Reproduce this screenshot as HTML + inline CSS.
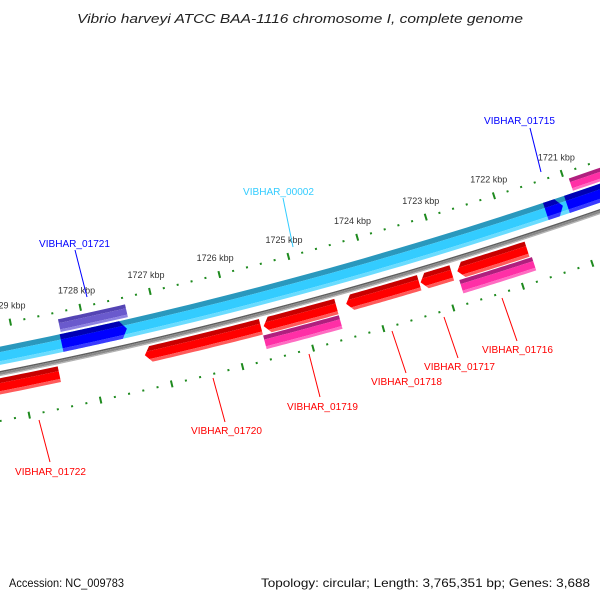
<!DOCTYPE html>
<html><head><meta charset="utf-8"><style>
html,body{margin:0;padding:0;background:#fff;}
svg{display:block;}
</style></head><body>
<svg id="map" xmlns="http://www.w3.org/2000/svg" width="600" height="600" viewBox="0 0 600 600" font-family="Liberation Sans, sans-serif">
<rect width="600" height="600" fill="#fff"/>
<text x="300" y="23" text-anchor="middle" font-style="italic" font-size="13" fill="#222" textLength="446" lengthAdjust="spacingAndGlyphs">Vibrio harveyi ATCC BAA-1116 chromosome I, complete genome</text>
<g id="tracks"></g>
<g id="rulers"></g>
<g id="callouts"></g>
<text x="9" y="587" font-size="12" fill="#111" textLength="115" lengthAdjust="spacingAndGlyphs">Accession: NC_009783</text>
<text x="590" y="587" text-anchor="end" font-size="12" fill="#111" textLength="329" lengthAdjust="spacingAndGlyphs">Topology: circular; Length: 3,765,351 bp; Genes: 3,688</text>
</svg>
<script>
// ---- data ----
const tickKbp = [1719,1720,1721,1722,1723,1724,1725,1726,1727,1728,1729,1730];
const tickLabels = ["1719 kbp","1720 kbp","1721 kbp","1722 kbp","1723 kbp","1724 kbp","1725 kbp","1726 kbp","1727 kbp","1728 kbp","1729 kbp","1730 kbp"];
const featNames  = ["VIBHAR_00002","VIBHAR_01721","VIBHAR_01721b","VIBHAR_01715","VIBHAR_01715b","VIBHAR_01715c","VIBHAR_01722","VIBHAR_01720","VIBHAR_01720b","VIBHAR_01718","VIBHAR_01718b","VIBHAR_01717","VIBHAR_01719","VIBHAR_01716"];
const featStart  = [1718.5,1727.43,1727.38,1721.13,1718.5,1718.5,1728.48,1725.62,1724.54,1723.35,1722.88,1721.79,1724.54,1721.76];
const featEnd    = [1730.5,1728.36,1728.34,1721.38,1721.07,1720.93,1730.5,1727.27,1725.58,1724.40,1723.33,1722.80,1725.62,1722.81];
const featRow    = ["cyan","cyan","top","cyan","cyan","top","r1","r1","r1","r1","r1","r1","r2","r2"];
const featStrand = [0,1,0,1,0,0,0,-1,-1,-1,-1,-1,0,0];
const featColor  = ["cyan","blue","purple","blue","blue","pink","red","red","red","red","red","red","pink","pink"];

// ---- geometry ----
const CX=-894, CY=-4130, R0=4543;
function ang(k){return (71.31+(k-1721)*0.901)*Math.PI/180;}
function pt(k,r){const a=ang(k);return [CX+(R0+r)*Math.cos(a), CY+(R0+r)*Math.sin(a)];}
const rows={top:[7,20],cyan:[22,40],r1:[53,69],r2:[70,84]};
const pal={
 red:["#c80000","#ff0000","#ff5a5a"],
 pink:["#b01f7e","#ff2fa6","#ff6cc2"],
 blue:["#0000b4","#0000ff","#3a3aff"],
 purple:["#5444b4","#6a5acd","#8d82e2"],
 cyan:["#2a98bd","#33ccff","#6adcff"],
 gray:["#5e5e5e","#8a8a8a","#b2b2b2"]
};
const NS="http://www.w3.org/2000/svg";
function arcPts(k1,k2,r,n){const a=[];for(let i=0;i<=n;i++){a.push(pt(k1+(k2-k1)*i/n,r));}return a;}
function fmt(ps){return ps.map(p=>p[0].toFixed(2)+","+p[1].toFixed(2)).join(" ");}
function shapePts(k1,k2,r1,r2,strand){
  const ah=0.085; let a=k1,b=k2; const pts=[];
  if(strand===1)a=Math.min(k2,k1+ah);
  if(strand===-1)b=Math.max(k1,k2-ah);
  const n=24;
  arcPts(a,b,r1,n).forEach(p=>pts.push(p));
  if(strand===-1)pts.push(pt(k2,(r1+r2)/2));
  arcPts(b,a,r2,n).forEach(p=>pts.push(p));
  if(strand===1)pts.push(pt(k1,(r1+r2)/2));
  return pts;
}
function bandPts(k1,k2,r1,r2){return arcPts(k1,k2,r1,24).concat(arcPts(k2,k1,r2,24));}

const tracks=document.getElementById('tracks');
// backbone
(function(){
  const c=pal.gray;
  [[46,47.5,c[0]],[47.5,49.8,c[1]],[49.8,51,c[2]]].forEach((s,i)=>{
    const p=document.createElementNS(NS,'polygon');
    p.setAttribute('points',fmt(bandPts(1718.5,1730.5,s[0],s[1])));
    p.setAttribute('fill',s[2]);
    
    
    tracks.appendChild(p);
  });
})();
featStart.forEach((ks,i)=>{
  const ke=featEnd[i]; const rr=rows[featRow[i]]; const c=pal[featColor[i]];
  const g=document.createElementNS(NS,'g');
  
  
  const cp=document.createElementNS(NS,'clipPath'); cp.setAttribute('id','cp'+i);
  const sp=document.createElementNS(NS,'polygon');
  sp.setAttribute('points',fmt(shapePts(ks,ke,rr[0],rr[1],featStrand[i])));
  cp.appendChild(sp); g.appendChild(cp);
  const h=rr[1]-rr[0];
  const bands=[[rr[0]-3,rr[0]+h*0.3,c[0]],[rr[0]+h*0.3,rr[1]-h*0.2,c[1]],[rr[1]-h*0.2,rr[1]+3,c[2]]];
  bands.forEach(b=>{
    const p=document.createElementNS(NS,'polygon');
    p.setAttribute('points',fmt(bandPts(ks-0.1,ke+0.1,b[0],b[1])));
    p.setAttribute('fill',b[2]);
    p.setAttribute('clip-path','url(#cp'+i+')');
    
    
    g.appendChild(p);
  });
  tracks.appendChild(g);
});

// rulers
const rulers=document.getElementById('rulers');
const green="#1e8a1e";
function tickLine(k,r,len,w,name){
  const a=pt(k,r-len/2), b=pt(k,r+len/2);
  const l=document.createElementNS(NS,'line');
  l.setAttribute('x1',a[0]);l.setAttribute('y1',a[1]);l.setAttribute('x2',b[0]);l.setAttribute('y2',b[1]);
  l.setAttribute('stroke',green);l.setAttribute('stroke-width',w);
  
  
  rulers.appendChild(l);
}
[0,95].forEach((rr,ri)=>{
  tickKbp.forEach((k,ti)=>{
    tickLine(k,rr,7,2,'major-tick');
    if(ti<tickKbp.length-1){for(let j=1;j<5;j++){tickLine(k+j*0.2,rr,2,2,'minor-tick');}}
    if(ri===0){
      const p=pt(k,-17);
      const t=document.createElementNS(NS,'text');
      t.setAttribute('x',p[0]);t.setAttribute('y',p[1]+3);
      t.setAttribute('text-anchor','middle');t.setAttribute('font-size','9');t.setAttribute('fill','#333');
      
      
      t.textContent=tickLabels[ti];
      rulers.appendChild(t);
    }
  });
});

// callout labels
const callouts=document.getElementById('callouts');
const labelText=["VIBHAR_01715","VIBHAR_00002","VIBHAR_01721","VIBHAR_01716","VIBHAR_01717","VIBHAR_01718","VIBHAR_01719","VIBHAR_01720","VIBHAR_01722"];
const labelColor=["#0000ff","#33ccff","#0000ff","#ff0000","#ff0000","#ff0000","#ff0000","#ff0000","#ff0000"];
const labelPos=[[484,124,530,128,541,172],[243,195,283,198,293,247],[39,247,75,250,87,297],[482,353,517,341,502,298],[424,370,458,358,444,317],[371,385,406,373,392,331],[287,410,320,397,309,354],[191,434,225,422,213,378],[15,475,50,462,39,420]];
labelText.forEach((s,i)=>{
  const q=labelPos[i];
  const l=document.createElementNS(NS,'line');
  l.setAttribute('x1',q[2]);l.setAttribute('y1',q[3]);l.setAttribute('x2',q[4]);l.setAttribute('y2',q[5]);
  l.setAttribute('stroke',labelColor[i]);l.setAttribute('stroke-width','1');
  
  
  callouts.appendChild(l);
  const t=document.createElementNS(NS,'text');
  t.setAttribute('x',q[0]);t.setAttribute('y',q[1]);
  t.setAttribute('font-size','10.5');t.setAttribute('fill',labelColor[i]);
  t.setAttribute('textLength','71');t.setAttribute('lengthAdjust','spacingAndGlyphs');
  
  
  t.textContent=s;
  callouts.appendChild(t);
});
</script>
</body></html>
